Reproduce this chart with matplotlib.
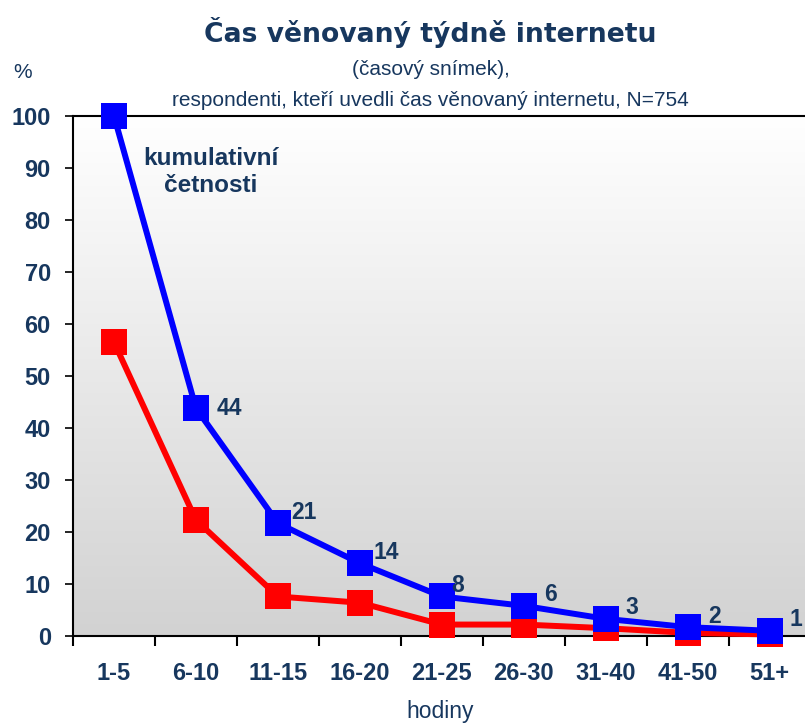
import matplotlib
matplotlib.use("Agg")
import matplotlib.pyplot as plt
import numpy as np

categories = ["1-5", "6-10", "11-15", "16-20", "21-25", "26-30", "31-40", "41-50", "51+"]
cumulative = [100, 43.8, 21.7, 14.0, 7.6, 5.8, 3.3, 1.7, 1.0]
cum_labels = ["", "44", "21", "14", "8", "6", "3", "2", "1"]
frequency = [56.5, 22.3, 7.6, 6.4, 2.2, 2.2, 1.5, 0.6, 0.3]
yticks = [0, 10, 20, 30, 40, 50, 60, 70, 80, 90, 100]

txt = "#17375E"
plt.rcParams['font.family'] = ['Liberation Sans', 'DejaVu Sans']

fig = plt.figure(figsize=(8.05, 7.25), dpi=100)
ax = fig.add_axes([73 / 805, (725 - 636) / 725, 1 - 73 / 805, (636 - 116) / 725])

x = np.arange(len(categories))
ax.set_xlim(-0.5, 8.43)
ax.set_ylim(0, 100)

# gradient background
grad = np.linspace(0, 1, 256).reshape(-1, 1)
cmap = matplotlib.colors.LinearSegmentedColormap.from_list("g", ["#D2D2D2", "#FFFFFF"])
ax.imshow(grad, aspect="auto", cmap=cmap, origin="lower",
          extent=(-0.5, 8.43, 0, 100), zorder=0)

ax.plot(x, frequency, color="#FF0000", lw=4.3, marker="s", ms=19,
        markeredgewidth=0, zorder=3, clip_on=False)
ax.plot(x, cumulative, color="#0000FF", lw=4.3, marker="s", ms=19,
        markeredgewidth=0, zorder=4, clip_on=False)

# label offsets in points (dx, dy), mostly to the upper right of each marker
label_offsets = {1: (24, 0), 4: (11, 8)}
for i, (xi, yi, lab) in enumerate(zip(x, cumulative, cum_labels)):
    if lab:
        dx, dy = label_offsets.get(i, (19, 8))
        ax.annotate(lab, (xi, yi), xytext=(dx, dy), textcoords="offset points",
                    ha="center", va="center", fontsize=16.5, fontweight="bold",
                    color=txt, zorder=5, annotation_clip=False)

ax.text(1.18, 89.2, "kumulativní\nčetnosti", ha="center", va="center",
        fontsize=17.5, fontweight="bold", color=txt, linespacing=1.25, zorder=5)

ax.set_yticks(yticks)
ax.set_yticklabels([str(v) for v in yticks], fontsize=17, fontweight="bold", color=txt)
ax.set_xticks(np.arange(-0.5, 8.5, 1.0))
ax.set_xticklabels([])
ax.set_xticks(x, minor=True)
ax.set_xticklabels(categories, minor=True, fontsize=17, fontweight="bold", color=txt)
ax.tick_params(axis="x", which="minor", length=0, pad=19)
ax.tick_params(axis="x", which="major", length=7, width=1.5, direction="out", color="black")
ax.tick_params(axis="y", length=6, width=1.2, direction="out", color="black", pad=10)

for s in ["left", "bottom", "top"]:
    ax.spines[s].set_linewidth(1.5)
    ax.spines[s].set_color("black")
ax.spines["right"].set_visible(False)

fig.text(0.535, 0.955, "Čas věnovaný týdně internetu", ha="center", va="center",
         fontsize=19.2, fontweight="bold", color=txt, family=["DejaVu Sans"])
fig.text(0.535, 0.904, "(časový snímek),", ha="center", va="center",
         fontsize=15, color=txt)
fig.text(0.535, 0.862, "respondenti, kteří uvedli čas věnovaný internetu, N=754",
         ha="center", va="center", fontsize=15, color=txt)
fig.text(0.028, 0.9, "%", ha="center", va="center", fontsize=15, color=txt)
fig.text(0.547, 0.018, "hodiny", ha="center", va="center", fontsize=16.5, color=txt)

fig.savefig("out.png", dpi=100)
